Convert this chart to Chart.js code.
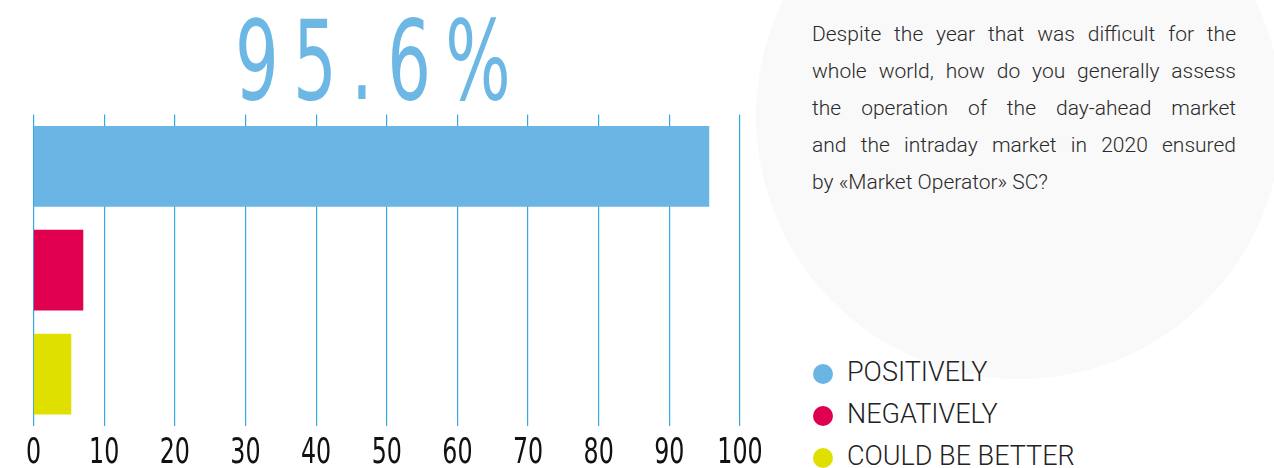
<!DOCTYPE html>
<html>
<head>
<meta charset="utf-8">
<script src="https://cdn.jsdelivr.net/npm/chart.js@4"></script>
<style>
    body { margin: 0; background: #fff; }
    .page { position: relative; width: 1274px; height: 468px; overflow: hidden; }
    .blob { position: absolute; left: 756px; top: -147px; width: 526px; height: 526px; border-radius: 50%; background: #f9f9f9; }
    .chartBox { position: absolute; left: 0; top: 0; width: 780px; height: 468px; }
    .bigNumber { position: absolute; left: 235px; top: 5px; font-family: "DejaVu Sans", sans-serif;
        font-size: 111px; line-height: 1; color: #6cb7e4; letter-spacing: 23px; transform: scaleX(0.62); transform-origin: left top; white-space: nowrap; }
    .question { position: absolute; left: 812px; top: 16px; width: 424px; font-family: Roboto, sans-serif; font-weight: 300;
        font-size: 21px; line-height: 37px; color: #2a2a2a; }
    .question div { text-align: justify; text-align-last: justify; white-space: nowrap; }
    .question div:last-child { text-align-last: left; }
    .legend { position: absolute; left: 813px; top: 351px; font-family: Roboto, sans-serif; font-weight: 300; font-size: 27px;
        line-height: 42px; color: #222; }
    .legend .item { position: relative; padding-left: 34px; white-space: nowrap; }
    .legend .dot { position: absolute; left: 0; top: 13px; width: 20px; height: 20px; border-radius: 50%; }
</style>
</head>
<body>
<div class="page">
    <div class="blob"></div>
    <div class="chartBox"><canvas id="surveyChart" width="780" height="468"></canvas></div>
    <div class="bigNumber" id="bigNumber"></div>
    <div class="question">
        <div>Despite the year that was difficult for the</div>
        <div>whole world, how do you generally assess</div>
        <div>the operation of the day-ahead market</div>
        <div>and the intraday market in 2020 ensured</div>
        <div>by «Market Operator» SC?</div>
    </div>
    <div class="legend" id="legend"></div>
</div>
<script>
const categories = ['POSITIVELY', 'NEGATIVELY', 'COULD BE BETTER'];
const answerShares = [95.6, 7.0, 5.3];
const xTickValues = [0, 10, 20, 30, 40, 50, 60, 70, 80, 90, 100];

const barColors = ['#6ab5e3', '#e0004f', '#dfdf00'];

document.getElementById('bigNumber').textContent = answerShares[0] + '%';

// legend on the right, from the same categories
const legend = document.getElementById('legend');
categories.forEach(function (name, i) {
    const item = document.createElement('div');
    item.className = 'item';
    const dot = document.createElement('span');
    dot.className = 'dot';
    dot.style.background = barColors[i];
    item.appendChild(dot);
    item.appendChild(document.createTextNode(name));
    legend.appendChild(item);
});

// tick labels are drawn narrow (condensed look), at the scale's own positions
const narrowTicks = {
    id: 'narrowTicks',
    afterDraw(chart) {
        const xScale = chart.scales.x;
        const c = chart.ctx;
        c.save();
        c.fillStyle = '#111';
        c.font = '36px "DejaVu Sans", sans-serif';
        c.textAlign = 'center';
        c.textBaseline = 'alphabetic';
        xScale.ticks.forEach(function (tick) {
            const px = xScale.getPixelForValue(tick.value);
            c.save();
            c.translate(px, 463);
            c.scale(0.66, 1);
            c.fillText(String(tick.value), 0, 0);
            c.restore();
        });
        c.restore();
    }
};

const ctx = document.getElementById('surveyChart');

new Chart(ctx, {
    type: 'bar',
    data: {
        labels: categories,
        datasets: [{
            data: answerShares,
            backgroundColor: barColors,
            borderWidth: 0,
            barThickness: 80
        }]
    },
    options: {
        indexAxis: 'y',
        responsive: false,
        animation: false,
        layout: {
            padding: { left: 33.5, right: 40, top: 114.4, bottom: 42 }
        },
        plugins: {
            legend: { display: false },
            tooltip: { enabled: false }
        },
        scales: {
            x: {
                min: 0,
                max: 100,
                afterBuildTicks: function (axis) {
                    axis.ticks = xTickValues.map(v => ({ value: v }));
                },
                grid: {
                    color: '#35a9e3',
                    lineWidth: 1.2,
                    drawTicks: false
                },
                border: { display: false },
                ticks: { display: false }
            },
            y: {
                display: false
            }
        }
    },
    plugins: [narrowTicks]
});
</script>
</body>
</html>
